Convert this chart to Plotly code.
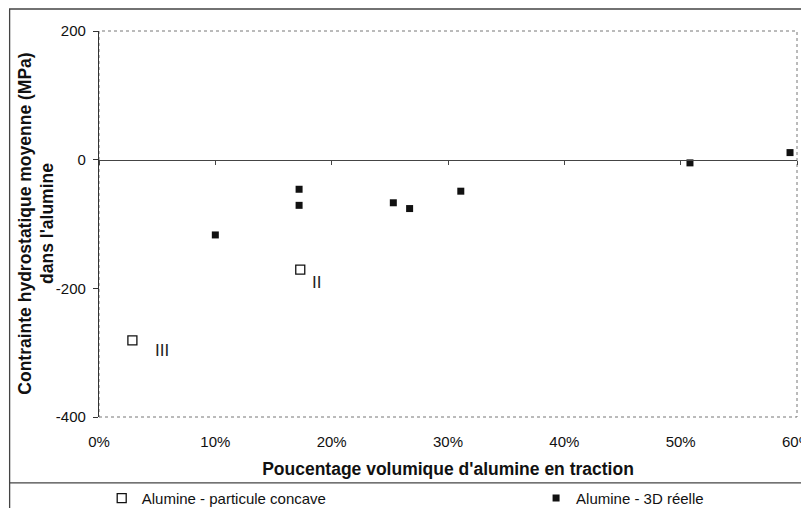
import plotly.graph_objects as go

# Data (x in fraction of volume, y in MPa)
concave_x = [0.0287, 0.173]
concave_y = [-281, -171]
concave_name = "Alumine - particule concave"

reel_x = [0.100, 0.172, 0.172, 0.253, 0.267, 0.311, 0.508, 0.594]
reel_y = [-117, -46, -71, -67, -76, -49, -5, 11]
reel_name = "Alumine - 3D réelle"

label_x = [0.187, 0.054]
label_y = [-191, -297]
label_text = ["II", "III"]

x_ticks = [0, 0.1, 0.2, 0.3, 0.4, 0.5, 0.6]
x_ticktext = ["0%", "10%", "20%", "30%", "40%", "50%", "60%"]
y_ticks = [-400, -200, 0, 200]
y_ticktext = ["-400", "-200", "0", "200"]

FONT = "Liberation Sans, Arial, sans-serif"

# page offset from default body margin
OFF = 8
W, H = 809, 508
# desired plot area in page pixels
PL, PR, PT, PB = 99.3, 796.7, 30.7, 416.7
L = PL - OFF
T = PT - OFF
R = W - (PR - OFF)
B = H - (PB - OFF)
pw = PR - PL
ph = PB - PT

def px_x(p):
    return (p - PL) / pw

def px_y(p):
    return (PB - p) / ph

fig = go.Figure()
fig.add_trace(go.Scatter(
    x=concave_x, y=concave_y, mode="markers", name=concave_name,
    marker=dict(symbol="square-open", size=9, color="#111", line=dict(width=1.3, color="#111")),
    xaxis="x", yaxis="y", legend="legend",
))
fig.add_trace(go.Scatter(
    x=reel_x, y=reel_y, mode="markers", name=reel_name,
    marker=dict(symbol="square", size=7, color="#111"),
    xaxis="x", yaxis="y", legend="legend2",
))

for tx, ty, tt in zip(label_x, label_y, label_text):
    fig.add_annotation(x=tx, y=ty, text=tt, showarrow=False, xref="x", yref="y",
                       font=dict(family=FONT, size=17, color="#222"))

# y-axis title as rotated text
fig.add_annotation(
    x=px_x(36), y=0.5, xref="paper", yref="paper", xanchor="center", yanchor="middle",
    text="<b>Contrainte hydrostatique moyenne (MPa)<br>dans l'alumine</b>",
    textangle=-90, showarrow=False,
    font=dict(family=FONT, size=17.5, color="#111"),
)

# plot-area dotted frame
fig.add_shape(type="rect", xref="paper", yref="paper", x0=0, x1=1, y0=0, y1=1,
              line=dict(color="#777", width=1, dash="dot"), layer="below")
# outer chart frame
fig.add_shape(type="rect", xref="paper", yref="paper",
              x0=px_x(10), x1=px_x(830), y0=px_y(530), y1=px_y(8.7),
              line=dict(color="#444", width=1.3), layer="below")
# legend separator
fig.add_shape(type="line", xref="paper", yref="paper",
              x0=px_x(10), x1=px_x(830), y0=px_y(482.5), y1=px_y(482.5),
              line=dict(color="#444", width=1.3))

leg_common = dict(orientation="h", yanchor="middle", y=px_y(498), xanchor="left",
                  font=dict(family=FONT, size=15, color="#111"),
                  bgcolor="rgba(0,0,0,0)", itemclick=False, borderwidth=0)

fig.update_layout(
    width=W, height=H,
    margin=dict(l=L, r=R, t=T, b=B, autoexpand=False),
    paper_bgcolor="white", plot_bgcolor="white",
    font=dict(family=FONT, size=15, color="#111"),
    showlegend=True,
    legend=dict(x=px_x(102), **leg_common),
    legend2=dict(x=px_x(536), **leg_common),
    xaxis=dict(
        range=[0, 0.6], tickvals=x_ticks, ticktext=x_ticktext,
        showgrid=False, zeroline=False, showline=False, automargin=False,
        ticks="outside", ticklen=11, tickcolor="rgba(0,0,0,0)",
        tickfont=dict(family=FONT, size=15, color="#111"),
        title=dict(text="<b>Poucentage volumique d'alumine en traction</b>",
                   font=dict(family=FONT, size=17.5, color="#111"), standoff=13),
        anchor="y",
    ),
    xaxis2=dict(
        range=[0, 0.6], tickvals=x_ticks, overlaying="x", anchor="free",
        position=(0 - (-400)) / 600, showticklabels=False, automargin=False,
        showgrid=False, zeroline=False, showline=True, linecolor="#444", linewidth=1.3,
        ticks="outside", ticklen=4, tickcolor="#444", tickwidth=1.3,
        matches="x",
    ),
    yaxis=dict(
        range=[-400, 200], tickvals=y_ticks, ticktext=y_ticktext,
        showgrid=False, zeroline=False, showline=True, linecolor="#333", linewidth=1.3,
        ticks="outside", ticklen=5, tickcolor="#333", tickwidth=1.2, automargin=False,
        ticklabelstandoff=4,
        tickfont=dict(family=FONT, size=15, color="#111"),
    ),
)

# dummy trace on xaxis2 so it renders
fig.add_trace(go.Scatter(x=[None], y=[None], xaxis="x2", yaxis="y", showlegend=False,
                         hoverinfo="skip"))

fig.write_html("out.html")
